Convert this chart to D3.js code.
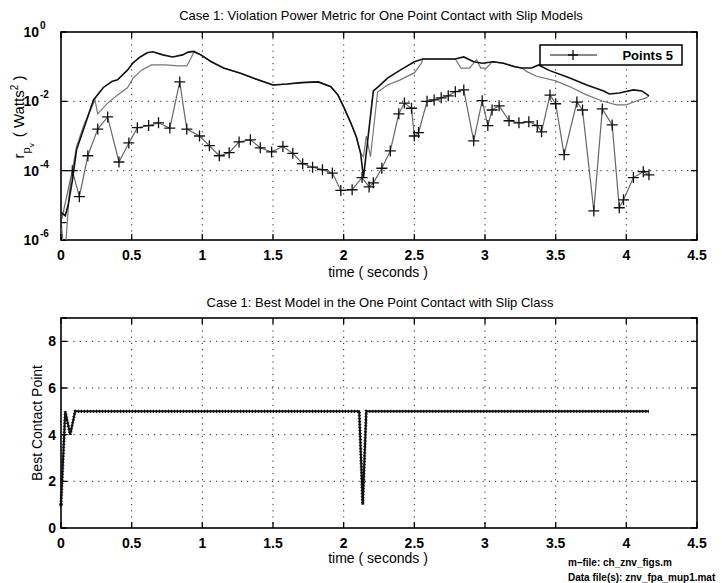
<!DOCTYPE html>
<html>
<head>
<meta charset="utf-8">
<script src="https://cdnjs.cloudflare.com/ajax/libs/d3/7.8.5/d3.min.js"></script>
<style>
  body { margin: 0; background: #fff; }
  svg { font-family: "Liberation Sans", Arial, sans-serif; }
</style>
</head>
<body>
<div id="chart"></div>
<script>
// top plot: violation power metric (values given as log10 exponents)
var upperT = [0, 0.03, 0.05, 0.08, 0.11, 0.16, 0.23, 0.30, 0.36, 0.40, 0.47, 0.51, 0.56, 0.61, 0.65, 0.72, 0.79, 0.86, 0.90, 0.94,
  0.99, 1.06, 1.15, 1.27, 1.36, 1.46, 1.50, 1.60, 1.70, 1.82, 1.91, 1.96, 2.00, 2.05, 2.09, 2.12, 2.14, 2.21, 2.25, 2.31,
  2.40, 2.50, 2.56, 2.79, 2.85, 2.92, 2.98, 3.06, 3.13, 3.21, 3.26, 3.33, 3.38, 3.45, 3.60, 3.72, 3.84, 3.88, 3.95, 4.05, 4.11, 4.16];
var upperExp = [-5.2, -5.3, -5.0, -4.3, -3.4, -2.8, -1.96, -1.6, -1.43, -1.38, -1.1, -0.89, -0.72, -0.6, -0.57, -0.66, -0.72, -0.66, -0.58, -0.56,
  -0.66, -0.85, -1.04, -1.19, -1.33, -1.47, -1.53, -1.5, -1.46, -1.44, -1.58, -1.82, -2.16, -2.62, -3.03, -3.5, -4.2, -1.7, -1.56, -1.33,
  -1.1, -0.86, -0.78, -0.78, -0.72, -0.86, -0.9, -0.86, -0.9, -1.0, -1.04, -1.04, -0.95, -1.1, -1.33, -1.53, -1.7, -1.79, -1.76, -1.67, -1.7, -1.84];

var middleT = [0, 0.025, 0.06, 0.08, 0.11, 0.16, 0.24, 0.26, 0.33, 0.40, 0.47, 0.51, 0.57, 0.64, 0.74, 0.83, 0.89, 0.92, 0.94,
  0.99, 1.06, 1.15, 1.27, 1.36, 1.46, 1.50, 1.60, 1.70, 1.82, 1.91, 1.96, 2.00, 2.05, 2.09, 2.12, 2.14, 2.16, 2.19, 2.24, 2.31,
  2.40, 2.50, 2.55, 2.56, 2.79, 2.83, 2.89, 2.94, 2.97, 3.01, 3.05, 3.13, 3.21, 3.26, 3.30, 3.36, 3.50, 3.59, 3.71, 3.83, 3.93, 4.00, 4.07, 4.14, 4.16];
var middleExp = [-5.4, -6.6, -4.6, -4.0, -3.3, -2.7, -1.96, -2.36, -2.05, -1.82, -1.61, -1.33, -1.1, -0.95, -0.95, -0.98, -0.98, -0.75, -0.58,
  -0.66, -0.85, -1.04, -1.19, -1.33, -1.47, -1.53, -1.5, -1.46, -1.44, -1.58, -1.82, -2.16, -2.62, -3.03, -3.5, -3.6, -3.0, -3.6, -1.73, -1.53,
  -1.38, -1.18, -0.9, -0.78, -0.78, -1.04, -1.04, -0.8, -1.04, -1.04, -0.86, -0.9, -1.0, -1.04, -1.15, -1.27, -1.41, -1.56, -1.8, -1.99, -2.1, -2.1, -1.99, -1.9, -1.84];

var pointsT = [0, 0.08, 0.13, 0.19, 0.26, 0.33, 0.41, 0.48, 0.54, 0.62, 0.69, 0.77, 0.84, 0.89, 0.98, 1.05, 1.12, 1.19, 1.26, 1.34,
  1.41, 1.49, 1.57, 1.64, 1.71, 1.78, 1.85, 1.92, 1.98, 2.06, 2.13, 2.18, 2.21, 2.27, 2.33, 2.39, 2.43, 2.48, 2.50, 2.53,
  2.59, 2.64, 2.69, 2.74, 2.79, 2.85, 2.92, 2.98, 3.02, 3.05, 3.10, 3.17, 3.24, 3.31, 3.37, 3.40, 3.46, 3.50, 3.56, 3.65,
  3.69, 3.77, 3.83, 3.90, 3.95, 3.98, 4.05, 4.12, 4.16];
var pointsExp = [-5.5, -4.0, -4.75, -3.57, -2.8, -2.45, -3.75, -3.2, -2.76, -2.7, -2.62, -2.77, -1.44, -2.8, -3.0, -3.28, -3.57, -3.48, -3.17, -3.11,
  -3.34, -3.46, -3.3, -3.5, -3.8, -3.9, -3.97, -4.07, -4.57, -4.55, -4.2, -4.47, -4.35, -3.93, -3.43, -2.36, -2.05, -2.2, -3.0, -2.9,
  -2.0, -1.96, -1.9, -1.84, -1.72, -1.67, -3.14, -1.98, -2.7, -2.25, -2.13, -2.56, -2.62, -2.59, -2.7, -2.88, -1.82, -2.07, -3.54, -2.02,
  -2.25, -5.16, -2.22, -2.68, -5.07, -4.84, -4.2, -4.03, -4.12];

// bottom plot: best contact point
var bestT = [0, 0.03, 0.065, 0.10, 2.11, 2.135, 2.16, 4.16];
var bestVal = [1, 5, 4, 5, 5, 1, 5, 5];

var xTicks = [0, 0.5, 1, 1.5, 2, 2.5, 3, 3.5, 4, 4.5];
var logTicks = [1, 1e-2, 1e-4, 1e-6];
var logTickExp = ["0", "-2", "-4", "-6"];
var bestTicks = [0, 2, 4, 6, 8];

var width = 728, height = 583;
var svg = d3.select("#chart").append("svg")
  .attr("width", width)
  .attr("height", height);
svg.append("rect").attr("width", width).attr("height", height).attr("fill", "#fff");

var left = 61, right = 697;
var x = d3.scaleLinear().domain([0, 4.5]).range([left, right]);

function frame(g, yTop, yBot, yScale, yTickVals) {
  // dotted grid
  g.selectAll(".gx").data(xTicks.slice(1, -1)).enter().append("line")
    .attr("x1", function(d) { return x(d); }).attr("x2", function(d) { return x(d); })
    .attr("y1", yTop).attr("y2", yBot)
    .attr("stroke", "#222").attr("stroke-width", 1).attr("stroke-dasharray", "1.2,5");
  g.selectAll(".gy").data(yTickVals.slice(1, -1)).enter().append("line")
    .attr("x1", left).attr("x2", right)
    .attr("y1", function(d) { return yScale(d); }).attr("y2", function(d) { return yScale(d); })
    .attr("stroke", "#222").attr("stroke-width", 1).attr("stroke-dasharray", "1.2,5");
  // inward ticks on all sides
  g.selectAll(".tx").data(xTicks).enter().append("path")
    .attr("d", function(d) { return "M" + x(d) + "," + yBot + "v-6M" + x(d) + "," + yTop + "v6"; })
    .attr("stroke", "#000").attr("stroke-width", 1.3);
  g.selectAll(".ty").data(yTickVals).enter().append("path")
    .attr("d", function(d) { return "M" + left + "," + yScale(d) + "h6M" + right + "," + yScale(d) + "h-6"; })
    .attr("stroke", "#000").attr("stroke-width", 1.3);
  g.append("rect")
    .attr("x", left).attr("y", yTop).attr("width", right - left).attr("height", yBot - yTop)
    .attr("fill", "none").attr("stroke", "#000").attr("stroke-width", 1.6);
  // x tick labels
  g.selectAll(".lx").data(xTicks).enter().append("text")
    .attr("x", function(d) { return x(d); }).attr("y", yBot + 20)
    .attr("text-anchor", "middle").attr("font-size", 14).attr("font-weight", "bold")
    .text(function(d) { return d; });
}

// ---------- top plot ----------
var top1 = 32, bot1 = 240;
var yLog = d3.scaleLog().domain([1e-6, 1]).range([bot1, top1]);
var g1 = svg.append("g");
frame(g1, top1, bot1, yLog, logTicks);

svg.append("clipPath").attr("id", "clip1").append("rect")
  .attr("x", left).attr("y", top1).attr("width", right - left).attr("height", bot1 - top1);

function logSeries(ts, es) {
  return ts.map(function(t, i) { return [t, Math.pow(10, es[i])]; });
}
var lineLog = d3.line().x(function(d) { return x(d[0]); }).y(function(d) { return yLog(d[1]); });

var plot1 = g1.append("g").attr("clip-path", "url(#clip1)");
plot1.append("path").datum(logSeries(middleT, middleExp))
  .attr("d", lineLog).attr("fill", "none").attr("stroke", "#777").attr("stroke-width", 1.2);
plot1.append("path").datum(logSeries(pointsT, pointsExp))
  .attr("d", lineLog).attr("fill", "none").attr("stroke", "#666").attr("stroke-width", 1.2);
plot1.append("path").datum(logSeries(upperT, upperExp))
  .attr("d", lineLog).attr("fill", "none").attr("stroke", "#111").attr("stroke-width", 1.6);
plot1.selectAll(".plus").data(logSeries(pointsT, pointsExp)).enter().append("path")
  .attr("d", function(d) {
    var px = x(d[0]), py = yLog(d[1]);
    return "M" + (px - 5.5) + "," + py + "h11M" + px + "," + (py - 5.5) + "v11";
  })
  .attr("stroke", "#111").attr("stroke-width", 1.3);

// log tick labels 10^n
g1.selectAll(".ly").data(logTicks).enter().append("text")
  .attr("x", left - 22).attr("y", function(d) { return yLog(d) + 5; })
  .attr("text-anchor", "end").attr("font-size", 14).attr("font-weight", "bold")
  .text("10");
g1.selectAll(".le").data(logTickExp).enter().append("text")
  .attr("x", left - 21).attr("y", function(d, i) { return yLog(logTicks[i]) - 3; })
  .attr("font-size", 10).attr("font-weight", "bold")
  .text(function(d) { return d; });

// legend
var lg = g1.append("g");
lg.append("rect").attr("x", 540).attr("y", 45).attr("width", 142).attr("height", 20)
  .attr("fill", "#fff").attr("stroke", "#000").attr("stroke-width", 1.5);
lg.append("line").attr("x1", 550).attr("x2", 597).attr("y1", 55).attr("y2", 55)
  .attr("stroke", "#111").attr("stroke-width", 1.2);
lg.append("path").attr("d", "M568,55h10M573,50v10").attr("stroke", "#111").attr("stroke-width", 1.3);
lg.append("text").attr("x", 673).attr("y", 60).attr("text-anchor", "end")
  .attr("font-size", 13).attr("font-weight", "bold").text("Points 5");

// titles and labels
svg.append("text").attr("x", 381).attr("y", 20).attr("text-anchor", "middle")
  .attr("font-size", 13).attr("fill", "#000").text("Case 1: Violation Power Metric for One Point Contact with Slip Models");
svg.append("text").attr("x", 378).attr("y", 277).attr("text-anchor", "middle")
  .attr("font-size", 14).text("time ( seconds )");
var yl = svg.append("text").attr("transform", "translate(24,117) rotate(-90)")
  .attr("text-anchor", "middle").attr("font-size", 15);
yl.append("tspan").text("r");
yl.append("tspan").attr("dy", 6).attr("font-size", 11).text("p");
yl.append("tspan").attr("dy", 4).attr("font-size", 8).text("v");
yl.append("tspan").attr("dy", -10).attr("dx", 6).text("( Watts");
yl.append("tspan").attr("dy", -6).attr("font-size", 10).text("2");
yl.append("tspan").attr("dy", 6).text(" )");

// ---------- bottom plot ----------
var top2 = 318, bot2 = 528;
var yBest = d3.scaleLinear().domain([0, 9]).range([bot2, top2]);
var g2 = svg.append("g");
frame(g2, top2, bot2, yBest, bestTicks.concat([9]));

g2.selectAll(".ly2").data(bestTicks).enter().append("text")
  .attr("x", left - 5).attr("y", function(d) { return yBest(d) + 5; })
  .attr("text-anchor", "end").attr("font-size", 14).attr("font-weight", "bold")
  .text(function(d) { return d; });

var bestData = bestT.map(function(t, i) { return [t, bestVal[i]]; });
var lineBest = d3.line().x(function(d) { return x(d[0]); }).y(function(d) { return yBest(d[1]); });
g2.append("path").datum(bestData).attr("d", lineBest)
  .attr("fill", "none").attr("stroke", "#111").attr("stroke-width", 2);
g2.append("path").datum(bestData).attr("d", lineBest)
  .attr("fill", "none").attr("stroke", "#111").attr("stroke-width", 3.2).attr("stroke-dasharray", "1,2");
g2.append("circle").attr("cx", x(bestT[0])).attr("cy", yBest(bestVal[0])).attr("r", 1.8).attr("fill", "#111");

svg.append("text").attr("x", 380).attr("y", 307).attr("text-anchor", "middle")
  .attr("font-size", 13).text("Case 1: Best Model in the One Point Contact with Slip Class");
svg.append("text").attr("x", 378).attr("y", 563).attr("text-anchor", "middle")
  .attr("font-size", 14).text("time ( seconds )");
svg.append("text").attr("transform", "translate(42,423) rotate(-90)")
  .attr("text-anchor", "middle").attr("font-size", 14).text("Best Contact Point");

svg.append("text").attr("x", 568).attr("y", 566).attr("font-size", 10).attr("font-weight", "bold")
  .text("m\u2013file: ch_znv_figs.m");
svg.append("text").attr("x", 568).attr("y", 581).attr("font-size", 10).attr("font-weight", "bold")
  .text("Data file(s): znv_fpa_mup1.mat");
</script>
</body>
</html>
